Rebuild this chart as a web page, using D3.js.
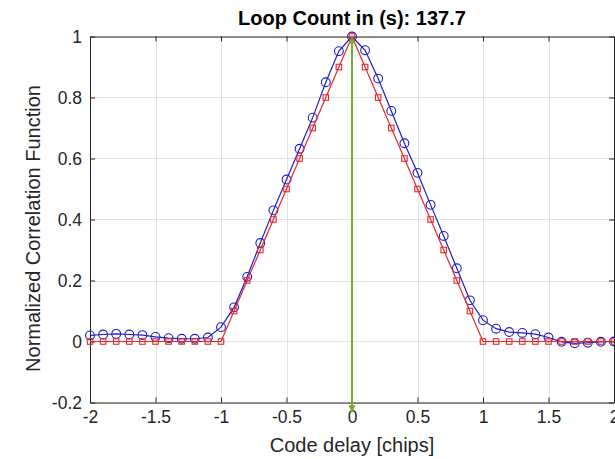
<!DOCTYPE html>
<html>
<head>
<meta charset="utf-8">
<script src="https://cdn.jsdelivr.net/npm/d3@7"></script>
<style>
  html, body { margin: 0; padding: 0; background: #fff; }
  svg { display: block; font-family: "Liberation Sans", Arial, Helvetica, sans-serif; }
</style>
</head>
<body>
<svg id="chart" width="615" height="459"></svg>
<script>
// Code delay samples in chips
const delays = [
  -2.0, -1.9, -1.8, -1.7, -1.6, -1.5, -1.4, -1.3, -1.2, -1.1,
  -1.0, -0.9, -0.8, -0.7, -0.6, -0.5, -0.4, -0.3, -0.2, -0.1,
   0.0,  0.1,  0.2,  0.3,  0.4,  0.5,  0.6,  0.7,  0.8,  0.9,
   1.0,  1.1,  1.2,  1.3,  1.4,  1.5,  1.6,  1.7,  1.8,  1.9, 2.0
];

// Measured (filtered) normalized correlation
const measuredCorr = [
  0.020, 0.023, 0.025, 0.023, 0.021, 0.015, 0.011, 0.009, 0.009, 0.013,
  0.047, 0.112, 0.212, 0.323, 0.430, 0.531, 0.632, 0.734, 0.850, 0.952,
  1.000, 0.955, 0.862, 0.756, 0.650, 0.553, 0.448, 0.346, 0.240, 0.135,
  0.070, 0.042, 0.031, 0.028, 0.024, 0.013, -0.001, -0.006, -0.004, -0.001, 0.000
];

// Ideal triangular autocorrelation
const idealCorr = [
  0.0, 0.0, 0.0, 0.0, 0.0, 0.0, 0.0, 0.0, 0.0, 0.0,
  0.0, 0.1, 0.2, 0.3, 0.4, 0.5, 0.6, 0.7, 0.8, 0.9,
  1.0, 0.9, 0.8, 0.7, 0.6, 0.5, 0.4, 0.3, 0.2, 0.1,
  0.0, 0.0, 0.0, 0.0, 0.0, 0.0, 0.0, 0.0, 0.0, 0.0, 0.0
];

const xTicks = [-2, -1.5, -1, -0.5, 0, 0.5, 1, 1.5, 2];
const yTicks = [-0.2, 0, 0.2, 0.4, 0.6, 0.8, 1];

const titleText = "Loop Count in (s): 137.7";
const xLabel = "Code delay [chips]";
const yLabel = "Normalized Correlation Function";

// Peak marker: arrow at the prompt delay, spanning the correlation range
const peakDelay = 0;
const arrowTop = 1;
const arrowBottom = -0.232;

const svg = d3.select("#chart");
const plotLeft = 90, plotRight = 614, plotTop = 36.5, plotBottom = 402.5;

const x = d3.scaleLinear().domain([-2, 2]).range([plotLeft, plotRight]);
const y = d3.scaleLinear().domain([-0.2, 1]).range([plotBottom, plotTop]);

const axisColor = "#262626";
const tickLen = 5;
const tickFont = 17.5;
const labelFont = 20;

// Grid
const grid = svg.append("g").attr("stroke", "#e3e3e3").attr("stroke-width", 1);
grid.selectAll("line.gx").data(xTicks).join("line")
  .attr("x1", d => Math.round(x(d)) + 0.5).attr("x2", d => Math.round(x(d)) + 0.5)
  .attr("y1", plotTop).attr("y2", plotBottom);
grid.selectAll("line.gy").data(yTicks).join("line")
  .attr("y1", d => Math.round(y(d)) + 0.5).attr("y2", d => Math.round(y(d)) + 0.5)
  .attr("x1", plotLeft).attr("x2", plotRight);

// Axes (ticks pointing inward, mirrored on top and right)
const fmt = d => String(d);
const xAxisB = d3.axisBottom(x).tickValues(xTicks).tickFormat(fmt).tickSizeInner(-tickLen).tickSizeOuter(0).tickPadding(8);
const xAxisT = d3.axisTop(x).tickValues(xTicks).tickFormat("").tickSizeInner(-tickLen).tickSizeOuter(0);
const yAxisL = d3.axisLeft(y).tickValues(yTicks).tickFormat(fmt).tickSizeInner(-tickLen).tickSizeOuter(0).tickPadding(8);
const yAxisR = d3.axisRight(y).tickValues(yTicks).tickFormat("").tickSizeInner(-tickLen).tickSizeOuter(0);

function styleAxis(g) {
  g.selectAll("path").attr("stroke", axisColor).attr("stroke-width", 1);
  g.selectAll("line").attr("stroke", axisColor).attr("stroke-width", 1);
  g.selectAll("text").attr("fill", axisColor).attr("font-size", tickFont)
    .attr("font-family", "'Liberation Sans', Arial, Helvetica, sans-serif");
}
svg.append("g").attr("transform", `translate(0,${plotBottom})`).call(xAxisB).call(styleAxis);
svg.append("g").attr("transform", `translate(0,${plotTop})`).call(xAxisT).call(styleAxis);
svg.append("g").attr("transform", `translate(${plotLeft},0)`).call(yAxisL).call(styleAxis);
svg.append("g").attr("transform", `translate(${plotRight},0)`).call(yAxisR).call(styleAxis);

// Series
const blue = "#1e1ec8", red = "#e8262b";
const line = d3.line().x((d, i) => x(delays[i])).y(d => y(d));

svg.append("path").datum(measuredCorr)
  .attr("d", line).attr("fill", "none").attr("stroke", blue).attr("stroke-width", 1.2);
svg.append("g").selectAll("circle").data(measuredCorr).join("circle")
  .attr("cx", (d, i) => x(delays[i])).attr("cy", d => y(d)).attr("r", 4.4)
  .attr("fill", "none").attr("stroke", blue).attr("stroke-width", 1.1);

svg.append("path").datum(idealCorr)
  .attr("d", line).attr("fill", "none").attr("stroke", red).attr("stroke-width", 1.2);
const sq = 5.5;
svg.append("g").selectAll("rect").data(idealCorr).join("rect")
  .attr("x", (d, i) => x(delays[i]) - sq / 2).attr("y", d => y(d) - sq / 2)
  .attr("width", sq).attr("height", sq)
  .attr("fill", "none").attr("stroke", red).attr("stroke-width", 1.1);

// Double-headed arrow at the peak
const green = "#77ac30";
const defs = svg.append("defs");
defs.append("marker").attr("id", "arrowHead")
  .attr("viewBox", "0 0 10 10").attr("refX", 10).attr("refY", 5)
  .attr("markerWidth", 8).attr("markerHeight", 7).attr("markerUnits", "userSpaceOnUse")
  .attr("orient", "auto-start-reverse")
  .append("path").attr("d", "M0,0 L10,5 L0,10 Z").attr("fill", green);
svg.append("line")
  .attr("x1", x(peakDelay)).attr("x2", x(peakDelay))
  .attr("y1", y(arrowTop)).attr("y2", y(arrowBottom))
  .attr("stroke", green).attr("stroke-width", 2)
  .attr("marker-start", "url(#arrowHead)").attr("marker-end", "url(#arrowHead)");

// Labels
svg.append("text").attr("x", (plotLeft + plotRight) / 2).attr("y", 25)
  .attr("text-anchor", "middle").attr("font-size", labelFont).attr("font-weight", "bold")
  .attr("fill", "#000").text(titleText);
svg.append("text").attr("x", (plotLeft + plotRight) / 2).attr("y", 452)
  .attr("text-anchor", "middle").attr("font-size", labelFont).attr("fill", axisColor).text(xLabel);
svg.append("text").attr("transform", `translate(40,${(plotTop + plotBottom) / 2 + 9}) rotate(-90)`)
  .attr("text-anchor", "middle").attr("font-size", labelFont).attr("fill", axisColor).text(yLabel);
</script>
</body>
</html>
